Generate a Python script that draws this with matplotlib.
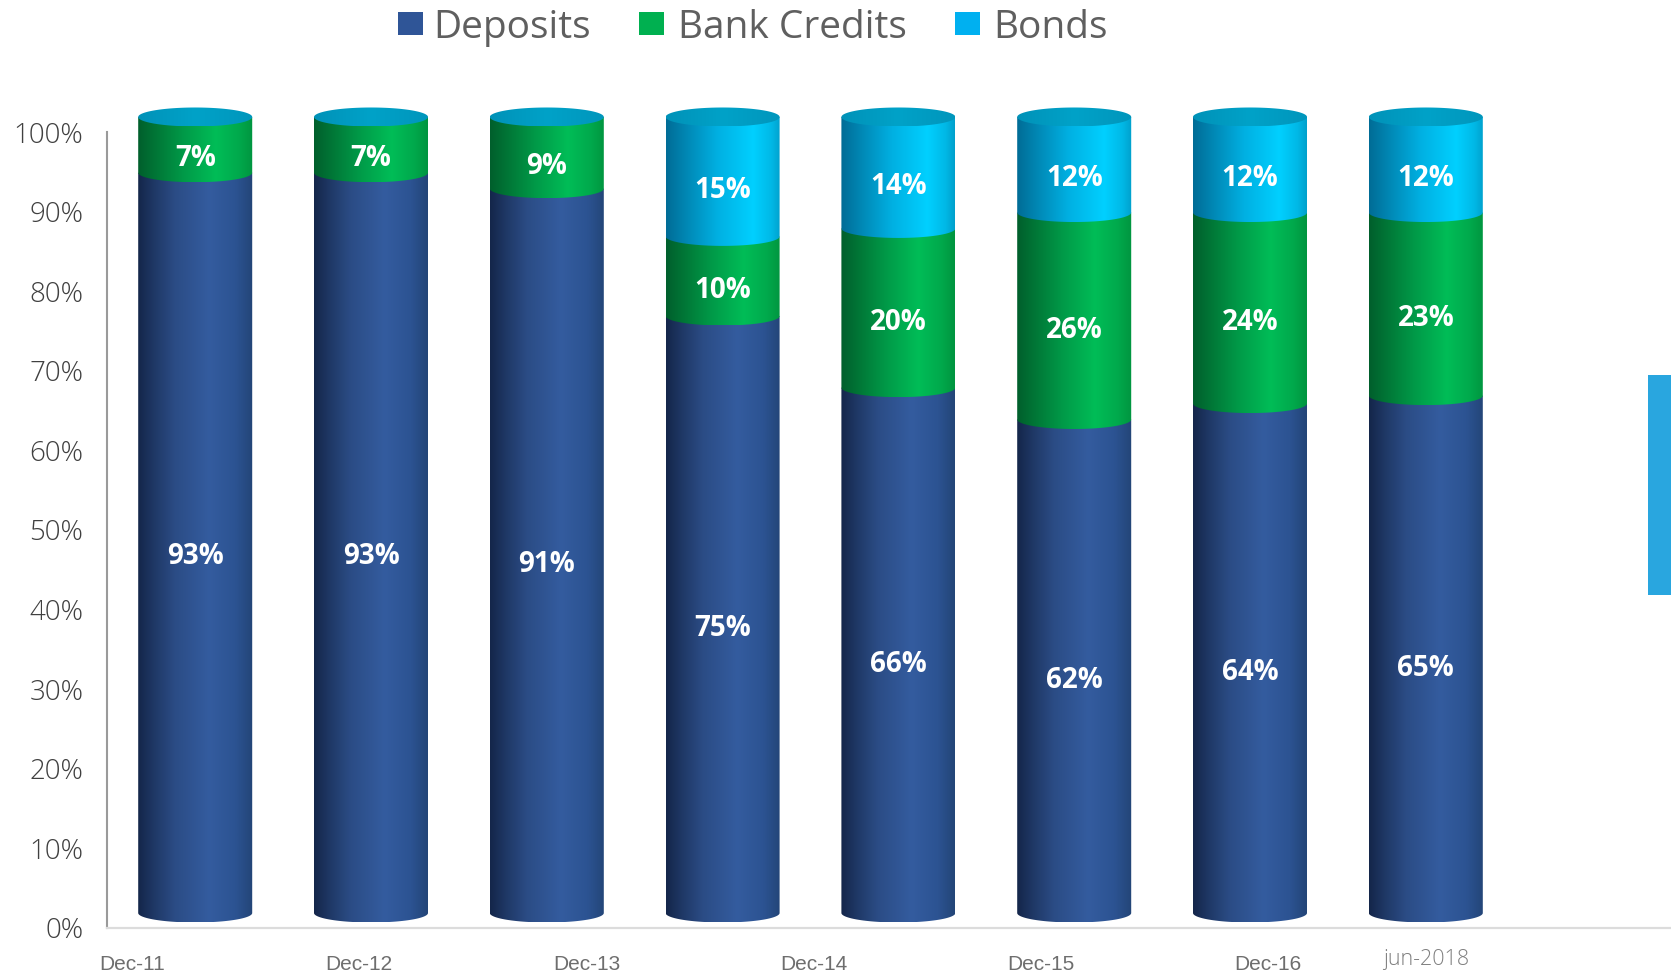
#!/usr/bin/env python3
""" Funding structure as stacked pseudo-3D cylinders. """

import matplotlib
matplotlib.use('Agg')
import matplotlib.pyplot as plt
import numpy as np
from matplotlib.colors import LinearSegmentedColormap
from matplotlib.patches import Polygon, Rectangle

periods = ['Dec-11', 'Dec-12', 'Dec-13', 'Dec-14', 'Dec-15', 'Dec-16', 'jun-2018']
deposits = [93, 93, 91, 75, 66, 62, 64, 65]
bank_credits = [7, 7, 9, 10, 20, 26, 24, 23]
bonds = [0, 0, 0, 15, 14, 12, 12, 12]
yticks = list(range(0, 101, 10))

W, H = 1671, 975
PX_PER_UNIT = 7.96      # vertical pixels for one percent
BAR_STEP = 175.8        # horizontal pixels between cylinders
BAR_X0 = 195.2
AXIS_LEFT = 107
AXIS_BOTTOM = 928
HALF_WIDTH = 57 / BAR_STEP
RIM = 9.5 / PX_PER_UNIT     # half height of the ellipses
LIFT = 15 / PX_PER_UNIT     # cylinders float a bit above the axis

blue_cmap = LinearSegmentedColormap.from_list('blue', [
    (0, '#14264a'), (0.14, '#1f3866'), (0.32, '#2b4c85'),
    (0.62, '#345c9f'), (0.85, '#2c5392'), (1, '#234577')])
green_cmap = LinearSegmentedColormap.from_list('green', [
    (0, '#005f2c'), (0.18, '#007a38'), (0.40, '#009a48'),
    (0.68, '#00bd57'), (0.88, '#00a94c'), (1, '#00953f')])
cyan_cmap = LinearSegmentedColormap.from_list('cyan', [
    (0, '#006c96'), (0.18, '#0088b5'), (0.45, '#00b0e2'),
    (0.76, '#00d0ff'), (0.92, '#00b8e6'), (1, '#00a0cc')])
cap_cmap = LinearSegmentedColormap.from_list('cap', ['#0092b8', '#00a2c8', '#0096bc'])

plt.rcParams['font.family'] = ['Open Sans', 'DejaVu Sans']

fig = plt.figure(figsize=(W / 100, H / 100), dpi=100)
top_value = 112
ax = fig.add_axes([AXIS_LEFT / W, 1 - AXIS_BOTTOM / H,
                   1 - AXIS_LEFT / W, top_value * PX_PER_UNIT / H])
gradient = np.linspace(0, 1, 256).reshape(1, -1)


def shaded(points, cx, cmap, zorder):
    """Fill a closed outline with a left-to-right gradient."""
    patch = Polygon(points, closed=True, transform=ax.transData, facecolor='none', edgecolor='none')
    ax.add_patch(patch)
    im = ax.imshow(gradient, cmap=cmap, aspect='auto', interpolation='bilinear', zorder=zorder,
                   extent=(cx - HALF_WIDTH, cx + HALF_WIDTH, points[:, 1].min(), points[:, 1].max()))
    im.set_clip_path(patch)


def segment(cx, y0, y1, cmap, zorder):
    """One slice of a cylinder; its bottom edge bulges downwards."""
    t = np.linspace(np.pi, 2 * np.pi, 80)
    arc = np.column_stack([cx + HALF_WIDTH * np.cos(t), y0 + RIM * np.sin(t)])
    upper = np.array([[cx + HALF_WIDTH, y1], [cx - HALF_WIDTH, y1]])
    shaded(np.vstack([arc, upper]), cx, cmap, zorder)


def cap(cx, y, zorder):
    t = np.linspace(0, 2 * np.pi, 160)
    shaded(np.column_stack([cx + HALF_WIDTH * np.cos(t), y + RIM * np.sin(t)]), cx, cap_cmap, zorder)


label_drop = 14 / PX_PER_UNIT
for i, (dep, cred, bond) in enumerate(zip(deposits, bank_credits, bonds)):
    base = LIFT
    for order, (value, cmap) in enumerate([(dep, blue_cmap), (cred, green_cmap), (bond, cyan_cmap)]):
        if value == 0:
            continue
        segment(i, base, base + value, cmap, 2 + order)
        ax.text(i, base + value / 2 - label_drop, f'{value}%', color='white', fontsize=20,
                fontweight=700, ha='center', va='center', zorder=10)
        base += value
    cap(i, base, 8)

ax.set_xlim((AXIS_LEFT - BAR_X0) / BAR_STEP, (W - BAR_X0) / BAR_STEP)
ax.set_ylim(0, top_value)

for side in ('top', 'right'):
    ax.spines[side].set_visible(False)
ax.spines['left'].set_bounds(0, 100)
ax.spines['left'].set_color('#9a9a9a')
ax.spines['left'].set_linewidth(1.5)
ax.spines['bottom'].set_color('#dcdcdc')
ax.spines['bottom'].set_linewidth(1.6)
ax.set_yticks(yticks)
ax.set_yticklabels([f'{v}%' for v in yticks], fontsize=20, color='#404040', fontweight=300)
ax.tick_params(axis='y', length=0, pad=17)
ax.set_xticks([])
ax.patch.set_alpha(0)

# the date labels run on their own spacing, only the last sits under its bar
for i, name in enumerate(periods[:-1]):
    fig.text((132 + 227.2 * i) / W, 1 - 965 / H, name, fontsize=15, color='#6e6e6e',
             family=['Liberation Sans', 'DejaVu Sans'], ha='center', va='center')
fig.text((BAR_X0 + 7 * BAR_STEP) / W, 1 - 960 / H, periods[-1], fontsize=15.5, color='#808080',
         fontweight=300, ha='center', va='center')

# legend
legend_items = [('Deposits', '#2f5597', 397.5, 433), ('Bank Credits', '#00b050', 639, 678),
                ('Bonds', '#00b0f0', 955, 993)]
for name, color, box_x, text_x in legend_items:
    fig.add_artist(Rectangle((box_x / W, 1 - 35 / H), 25 / W, 23 / H, transform=fig.transFigure,
                             facecolor=color, edgecolor='none'))
    fig.text(text_x / W, 1 - 28 / H, name, fontsize=28, color='#5f5f5f', ha='left', va='center')

# side marker on the right edge
fig.add_artist(Rectangle((1648 / W, 1 - 595 / H), 23 / W, 220 / H, transform=fig.transFigure,
                         facecolor='#29a6df', edgecolor='none'))

fig.savefig('out.png', dpi=100)
